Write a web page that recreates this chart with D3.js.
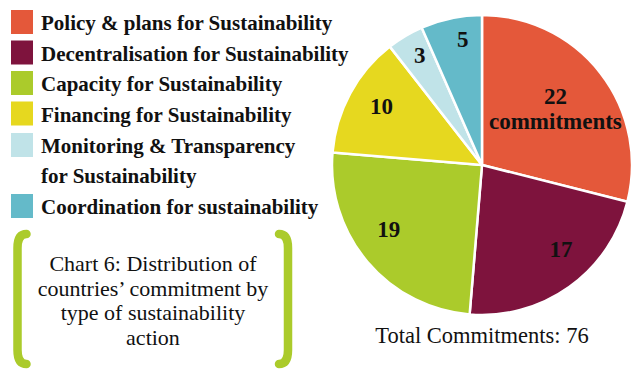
<!DOCTYPE html>
<html>
<head>
<meta charset="utf-8">
<script src="https://cdn.jsdelivr.net/npm/d3@7"></script>
<style>
  body { margin: 0; background: #fff; }
  svg { display: block; }
</style>
</head>
<body>
<div class="chart"></div>
<script>
// data
const categories = [
    'Policy & plans for Sustainability',
    'Decentralisation for Sustainability',
    'Capacity for Sustainability',
    'Financing for Sustainability',
    'Monitoring & Transparency|for Sustainability',
    'Coordination for sustainability'
];
const values = [22, 17, 19, 10, 3, 5];
const colors = ['#e4583a', '#7e133d', '#abcb2b', '#e6d81f', '#c0e3e8', '#64bac9'];
const captionLines = ['Chart 6: Distribution of', 'countries\u2019 commitment by', 'type of sustainability', 'action'];

const width = 632, height = 374;
const serif = "'Liberation Serif', 'DejaVu Serif', serif";

const svg = d3.select('.chart').append('svg')
    .attr('width', width)
    .attr('height', height);

// ---- pie ----
const cx = 482, cy = 165, radius = 150;
const total = d3.sum(values);
const data = values.map((v, i) => ({name: categories[i], value: v, color: colors[i]}));

const pie = d3.pie().value(d => d.value).sort(null);
const arcs = pie(data);
const arcGen = d3.arc().innerRadius(0).outerRadius(radius);

const pieG = svg.append('g').attr('transform', `translate(${cx}, ${cy})`);

pieG.selectAll('path')
    .data(arcs)
    .enter()
    .append('path')
    .attr('d', arcGen)
    .style('fill', d => d.data.color)
    .style('stroke', '#fff')
    .style('stroke-width', 2.5)
    .style('stroke-linejoin', 'round');

// label radius depends on slice size, small nudges to sit like the original
const labelR = d => d.data.value > 20 ? 0.62 : (d.data.value > 8 ? 0.77 : 0.85);
const nudge = [[0, 0], [12, -10], [-5, -11], [1, -4], [3, 0], [7, -1]];
const labels = pieG.selectAll('.slice-label')
    .data(arcs)
    .enter()
    .append('text')
    .attr('class', 'slice-label')
    .attr('transform', (d, i) => {
        const r = radius * labelR(d);
        const a = (d.startAngle + d.endAngle) / 2;
        return `translate(${Math.sin(a) * r + nudge[i][0]}, ${-Math.cos(a) * r + nudge[i][1]})`;
    })
    .style('font-family', serif)
    .style('font-weight', 'bold')
    .style('font-size', '23px')
    .style('fill', '#111')
    .attr('text-anchor', 'middle');

labels.each(function(d, i) {
    const t = d3.select(this);
    if (i === 0) {
        t.append('tspan').attr('x', 0).attr('y', -4).text(d.data.value);
        t.append('tspan').attr('x', 0).attr('y', 21).text('commitments');
    } else {
        t.append('tspan').attr('x', 0).attr('y', 8).text(d.data.value);
    }
});

svg.append('text')
    .attr('x', cx)
    .attr('y', 343)
    .attr('text-anchor', 'middle')
    .style('font-family', serif)
    .style('font-size', '22.5px')
    .style('fill', '#111')
    .text(`Total Commitments: ${total}`);

// ---- legend ----
const legendRows = [0, 1, 2, 3, 4, 6]; // line slot of each item (item 5 spans two lines)
const rowH = 30.5;
const legend = svg.append('g').attr('class', 'legend').attr('transform', 'translate(11, 10)');

const items = legend.selectAll('.legend-item')
    .data(data)
    .enter()
    .append('g')
    .attr('class', 'legend-item')
    .attr('transform', (d, i) => `translate(0, ${legendRows[i] * rowH + (i >= 4 ? 1 : 0)})`);

items.append('rect')
    .attr('width', 22)
    .attr('height', 24)
    .style('fill', d => d.color);

items.append('text')
    .attr('x', 30)
    .attr('y', 20)
    .style('font-family', serif)
    .style('font-weight', 'bold')
    .style('font-size', '21px')
    .style('fill', '#111')
    .each(function(d) {
        const parts = d.name.split('|');
        d3.select(this).selectAll('tspan')
            .data(parts)
            .enter()
            .append('tspan')
            .attr('x', 30)
            .attr('dy', (p, j) => j === 0 ? 0 : 30)
            .text(p => p);
    });

// ---- caption with brackets ----
const capG = svg.append('g').attr('class', 'caption');
const bx0 = 17.5, bx1 = 288, by0 = 234, by1 = 364;
const bracket = (x, dir) => `M${x + dir * 9},${by0} Q${x},${by0} ${x},${by0 + 14} L${x},${by1 - 14} Q${x},${by1} ${x + dir * 9},${by1}`;
capG.append('path').attr('d', bracket(bx0, 1))
    .style('fill', 'none').style('stroke', '#abcb2b').style('stroke-width', 8.5).style('stroke-linecap', 'round');
capG.append('path').attr('d', bracket(bx1, -1))
    .style('fill', 'none').style('stroke', '#abcb2b').style('stroke-width', 8.5).style('stroke-linecap', 'round');

capG.append('text')
    .attr('text-anchor', 'middle')
    .style('font-family', serif)
    .style('font-size', '22px')
    .style('fill', '#111')
    .selectAll('tspan')
    .data(captionLines)
    .enter()
    .append('tspan')
    .attr('x', 153)
    .attr('y', (d, i) => 271 + i * 24.5)
    .text(d => d);
</script>
</body>
</html>
